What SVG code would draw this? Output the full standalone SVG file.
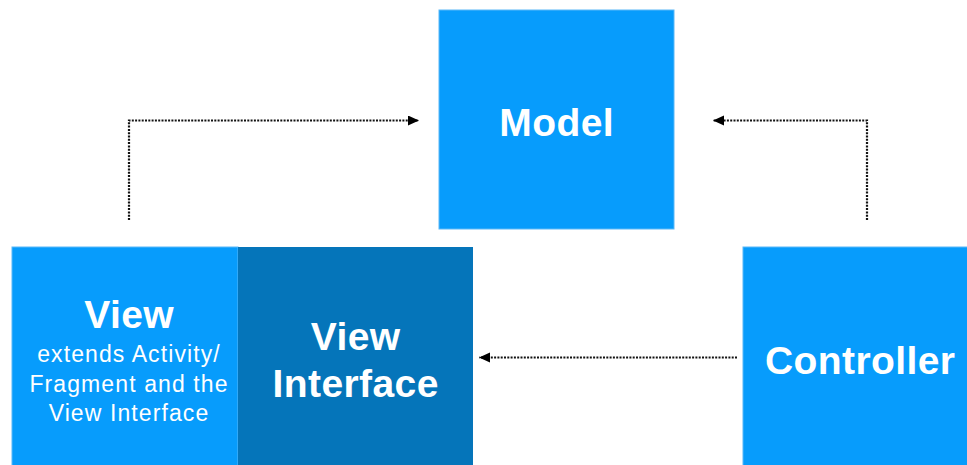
<svg xmlns="http://www.w3.org/2000/svg" width="967" height="465" viewBox="0 0 967 465">
  <style>
    .box { fill: #079cfc; stroke: #5ab8f8; stroke-width: 1; }
    .dark { fill: #0575ba; }
    .lbl { font-family: "Liberation Sans", Arial, sans-serif; font-weight: bold; font-size: 39px; letter-spacing: 0.4px; fill: #ffffff; text-anchor: middle; }
    .sub { font-family: "Liberation Sans", Arial, sans-serif; font-size: 23px; letter-spacing: 1.1px; fill: #ffffff; text-anchor: middle; }
    .conn { fill: none; stroke: #111111; stroke-width: 2.2; stroke-dasharray: 2 1.3; marker-end: url(#arrow); }
  </style>
  <defs>
    <marker id="arrow" markerUnits="userSpaceOnUse" markerWidth="13" markerHeight="11" refX="11" refY="5" orient="auto">
      <path d="M0,0 L11,5 L0,10 Z" fill="#000000"/>
    </marker>
  </defs>
  <rect width="967" height="465" fill="#ffffff"/>

  <g id="connectors">
    <path class="conn" d="M129,220 V120.5 H419"/>
    <path class="conn" d="M867,220 V120.5 H713"/>
    <path class="conn" d="M737,357.5 H479"/>
  </g>

  <g id="model">
    <rect class="box" x="439" y="10" width="235" height="219"/>
    <text class="lbl" x="556.7" y="136">Model</text>
  </g>

  <g id="view">
    <rect class="box" x="12" y="247" width="226" height="219"/>
    <text class="lbl" x="129.2" y="328">View</text>
    <text class="sub" x="129" y="362">extends Activity/</text>
    <text class="sub" x="129" y="392">Fragment and the</text>
    <text class="sub" x="129" y="421">View Interface</text>
  </g>

  <g id="view-interface">
    <rect class="dark" x="238" y="247" width="235" height="219"/>
    <text class="lbl" x="355.7" y="350">View</text>
    <text class="lbl" x="355.7" y="397">Interface</text>
  </g>

  <g id="controller">
    <rect class="box" x="743" y="247" width="230" height="219"/>
    <text class="lbl" x="860.2" y="374">Controller</text>
  </g>
</svg>
